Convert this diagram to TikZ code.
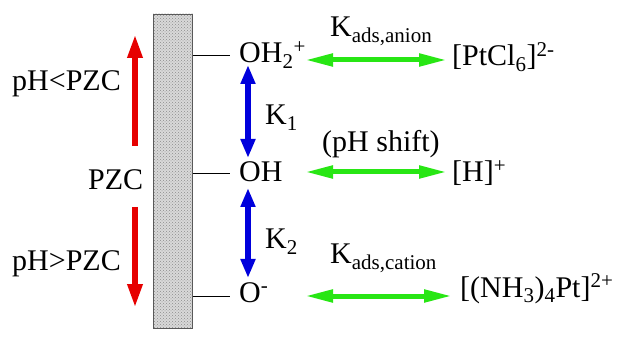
\documentclass[tikz,border=0pt]{standalone}
\usepackage{fontspec}
\newfontfamily\tms{Liberation Serif}
\usetikzlibrary{arrows.meta,patterns}
\definecolor{myred}{RGB}{230,0,0}
\definecolor{myblue}{RGB}{0,0,220}
\definecolor{mygreen}{RGB}{40,230,20}
\begin{document}
\begin{tikzpicture}[x=1pt,y=-1pt,
  lbl/.style={anchor=base west,inner sep=0pt,font=\tms\fontsize{30}{36}\selectfont},
  redarr/.style={line width=6.5pt,myred,-{Triangle[width=14pt,length=24pt]}},
  bluearr/.style={line width=6.5pt,myblue,{Triangle[width=14pt,length=19pt]}-{Triangle[width=14pt,length=19pt]}},
  greenarr/.style={line width=5pt,mygreen,{Triangle[width=12pt,length=28pt]}-{Triangle[width=12pt,length=28pt]}},
  tick/.style={line width=0.8pt,black}]
\useasboundingbox (0,0) rectangle (626,347);
% wall
\node[draw=gray!70!black,line width=0.8pt,fill=gray!30,
  minimum width=39pt,minimum height=314pt,inner sep=0pt,anchor=north west] (wall) at (153,14) {};
\fill[pattern=crosshatch dots,pattern color=gray!90] (wall.south west) rectangle (wall.north east);
\draw[gray!70!black,line width=0.8pt] (wall.south west) rectangle (wall.north east);
% left labels
\node[lbl] (pHlt) at (12,91) {pH<PZC};
\node[lbl] (pzc) at (88,190) {PZC};
\node[lbl] (pHgt) at (12,270) {pH>PZC};
\coordinate (r1a) at (135,146); \coordinate (r1b) at (135,34);
\coordinate (r2a) at (135,207); \coordinate (r2b) at (135,308);
\draw[redarr] (r1a) -- (r1b);
\draw[redarr] (r2a) -- (r2b);
% surface species
\node[lbl] (oh2) at (239,63) {OH\textsubscript{2}\textsuperscript{+}};
\node[lbl] (oh) at (239,182) {OH};
\node[lbl] (om) at (239,302) {O\textsuperscript{-}};
\coordinate (t1) at (230,55); \coordinate (t2) at (230,173); \coordinate (t3) at (230,296);
\draw[tick] (wall.east |- t1) -- (t1);
\draw[tick] (wall.east |- t2) -- (t2);
\draw[tick] (wall.east |- t3) -- (t3);
% blue arrows
\coordinate (b1a) at (248,65); \coordinate (b1b) at (248,158);
\coordinate (b2a) at (248,188); \coordinate (b2b) at (248,278);
\draw[bluearr] (b1a) -- (b1b);
\draw[bluearr] (b2a) -- (b2b);
\node[lbl] (k1) at (265,125) {K\textsubscript{1}};
\node[lbl] (k2) at (265,249) {K\textsubscript{2}};
% green arrows and labels
\node[lbl] (kan) at (330,37) {K\textsubscript{ads,anion}};
\node[lbl] (phs) at (322,152) {(pH shift)};
\node[lbl] (kcat) at (330,263) {K\textsubscript{ads,cation}};
\node[lbl] (ptcl) at (452,66) {[PtCl\textsubscript{6}]\textsuperscript{2-}};
\node[lbl] (hp) at (452,182) {[H]\textsuperscript{+}};
\node[lbl] (nh3) at (460,297) {[(NH\textsubscript{3})\textsubscript{4}Pt]\textsuperscript{2+}};
\coordinate (g1a) at (305,60); \coordinate (g1b) at (447,60);
\coordinate (g2a) at (305,172); \coordinate (g2b) at (447,172);
\coordinate (g3a) at (305,296); \coordinate (g3b) at (452,296);
\draw[greenarr] (g1a) -- (g1b);
\draw[greenarr] (g2a) -- (g2b);
\draw[greenarr] (g3a) -- (g3b);
\end{tikzpicture}
\end{document}
